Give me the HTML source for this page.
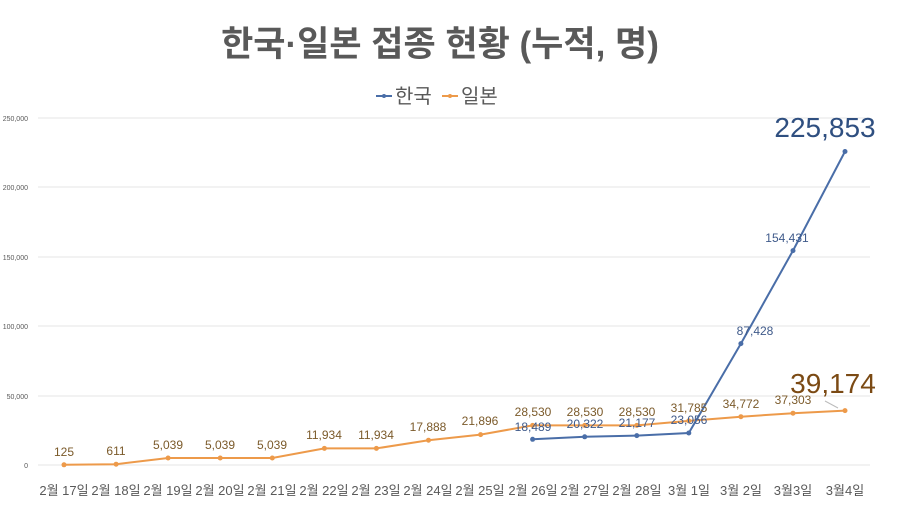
<!DOCTYPE html>
<html><head><meta charset="utf-8"><style>body{margin:0;background:#fff}svg{display:block}</style></head><body>
<svg width="900" height="505" viewBox="0 0 900 505" font-family="'Liberation Sans','Noto Sans CJK KR',sans-serif">
<text x="440" y="56" text-anchor="middle" font-size="35" font-weight="bold" fill="#595959">한국·일본 접종 현황 (누적, 명)</text>
<line x1="376" y1="96" x2="392" y2="96" stroke="#4a6ea8" stroke-width="2"/><circle cx="384" cy="96" r="2" fill="#4a6ea8"/>
<text x="395" y="103" font-size="20" fill="#595959">한국</text>
<line x1="442" y1="96" x2="458" y2="96" stroke="#ed9a4a" stroke-width="2"/><circle cx="450" cy="96" r="2" fill="#ed9a4a"/>
<text x="461" y="103" font-size="20" fill="#595959">일본</text>
<g stroke="#e6e6e6" stroke-width="1">
<line x1="38" y1="118" x2="870" y2="118"/><line x1="38" y1="187" x2="870" y2="187"/><line x1="38" y1="257" x2="870" y2="257"/><line x1="38" y1="326" x2="870" y2="326"/><line x1="38" y1="396" x2="870" y2="396"/><line x1="38" y1="465" x2="870" y2="465"/></g>
<g font-size="7" fill="#595959" text-anchor="end">
<text x="28" y="121">250,000</text><text x="28" y="190">200,000</text><text x="28" y="260">150,000</text><text x="28" y="329">100,000</text><text x="28" y="399">50,000</text><text x="28" y="468">0</text></g>
<polyline fill="none" stroke="#ed9a4a" stroke-width="2" points="64,464.8 116.1,464.2 168.1,458 220.2,458 272.3,458 324.4,448.4 376.4,448.4 428.5,440.2 480.6,434.6 532.6,425.4 584.7,425.4 636.8,425.4 688.8,420.9 740.9,416.7 793,413.2 845,410.6"/>
<g fill="#ed9a4a"><circle cx="64" cy="464.8" r="2.5"/><circle cx="116.1" cy="464.2" r="2.5"/><circle cx="168.1" cy="458" r="2.5"/><circle cx="220.2" cy="458" r="2.5"/><circle cx="272.3" cy="458" r="2.5"/><circle cx="324.4" cy="448.4" r="2.5"/><circle cx="376.4" cy="448.4" r="2.5"/><circle cx="428.5" cy="440.2" r="2.5"/><circle cx="480.6" cy="434.6" r="2.5"/><circle cx="532.6" cy="425.4" r="2.5"/><circle cx="584.7" cy="425.4" r="2.5"/><circle cx="636.8" cy="425.4" r="2.5"/><circle cx="688.8" cy="420.9" r="2.5"/><circle cx="740.9" cy="416.7" r="2.5"/><circle cx="793" cy="413.2" r="2.5"/><circle cx="845" cy="410.6" r="2.5"/></g>
<polyline fill="none" stroke="#4a6ea8" stroke-width="2" points="532.6,439.3 584.7,436.8 636.8,435.6 688.8,433 740.9,343.6 793,250.6 845,151.5"/>
<g fill="#4a6ea8"><circle cx="532.6" cy="439.3" r="2.5"/><circle cx="584.7" cy="436.8" r="2.5"/><circle cx="636.8" cy="435.6" r="2.5"/><circle cx="688.8" cy="433" r="2.5"/><circle cx="740.9" cy="343.6" r="2.5"/><circle cx="793" cy="250.6" r="2.5"/><circle cx="845" cy="151.5" r="2.5"/></g>
<g font-size="12" fill="#7b5a2a" text-anchor="middle">
<text x="64" y="456">125</text><text x="116" y="455">611</text><text x="168" y="449">5,039</text><text x="220" y="449">5,039</text><text x="272" y="449">5,039</text><text x="324" y="439">11,934</text><text x="376" y="439">11,934</text><text x="428" y="431">17,888</text><text x="480" y="425">21,896</text><text x="533" y="416">28,530</text><text x="585" y="416">28,530</text><text x="637" y="416">28,530</text><text x="689" y="412">31,785</text><text x="741" y="408">34,772</text><text x="793" y="404">37,303</text></g>
<g font-size="12" fill="#3f5a8a" text-anchor="middle">
<text x="533" y="431">18,489</text><text x="585" y="428">20,322</text><text x="637" y="427">21,177</text><text x="689" y="424">23,056</text><text x="755" y="335">87,428</text><text x="787" y="242">154,431</text></g>
<text x="825" y="137" font-size="28" fill="#2f4f80" text-anchor="middle">225,853</text>
<text x="833" y="393" font-size="28" fill="#7b4a14" text-anchor="middle">39,174</text>
<line x1="825" y1="401" x2="838" y2="408" stroke="#bbb" stroke-width="1"/>
<g font-size="13" fill="#595959" text-anchor="middle">
<text x="64" y="495">2월 17일</text><text x="116" y="495">2월 18일</text><text x="168" y="495">2월 19일</text><text x="220" y="495">2월 20일</text><text x="272" y="495">2월 21일</text><text x="324" y="495">2월 22일</text><text x="376" y="495">2월 23일</text><text x="428" y="495">2월 24일</text><text x="480" y="495">2월 25일</text><text x="533" y="495">2월 26일</text><text x="585" y="495">2월 27일</text><text x="637" y="495">2월 28일</text><text x="689" y="495">3월 1일</text><text x="741" y="495">3월 2일</text><text x="793" y="495">3월3일</text><text x="845" y="495">3월4일</text></g>
</svg>
</body></html>
